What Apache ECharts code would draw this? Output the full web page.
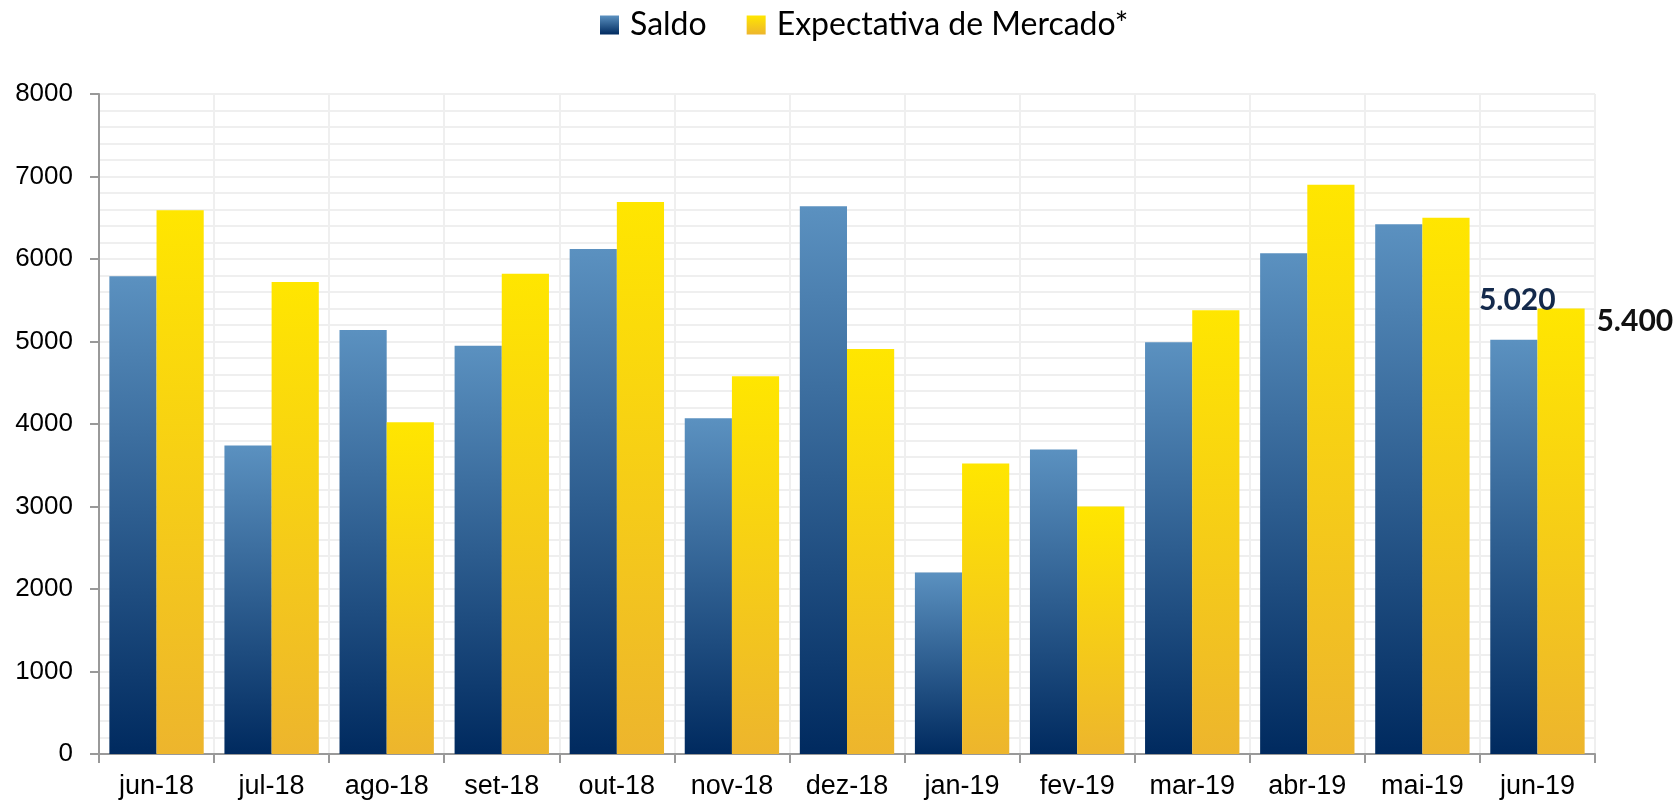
<!DOCTYPE html>
<html>
<head>
<meta charset="utf-8">
<script src="https://cdn.jsdelivr.net/npm/echarts@6/dist/echarts.min.js"></script>
<style>
  html, body { margin: 0; padding: 0; background: #fff; }
  #chart { width: 1675px; height: 805px; }
</style>
</head>
<body>
<div id="chart"></div>
<script>
const months = ["jun-18", "jul-18", "ago-18", "set-18", "out-18", "nov-18", "dez-18",
  "jan-19", "fev-19", "mar-19", "abr-19", "mai-19", "jun-19"];
const saldo = [5790, 3740, 5140, 4950, 6120, 4070, 6640, 2200, 3690, 4990, 6070, 6420, 5020];
const expectativa = [6590, 5720, 4020, 5820, 6690, 4580, 4910, 3520, 3000, 5380, 6900, 6500, 5400];
const yTicks = [0, 1000, 2000, 3000, 4000, 5000, 6000, 7000, 8000];

// thousands with a dot, like the original
function fmt(v) {
  return String(v).replace(/\B(?=(\d{3})+(?!\d))/g, ".");
}

function grad(top, bottom) {
  return new echarts.graphic.LinearGradient(0, 0, 0, 1, [
    { offset: 0, color: top },
    { offset: 1, color: bottom }
  ]);
}

const last = months.length - 1;

function withLastLabel(arr, label) {
  return arr.map((v, i) => i === last ? { value: v, label: label } : v);
}

let chart = echarts.init(document.getElementById("chart"), null, { renderer: "canvas" });

let option = {
  animation: false,
  legend: {
    top: 4,
    left: 595,
    icon: "rect",
    itemWidth: 19,
    itemHeight: 19,
    itemGap: 40,
    textStyle: { fontFamily: "Lato", fontSize: 32, color: "#000", padding: [0, 0, 0, 6] },
    data: ["Saldo", "Expectativa de Mercado*"]
  },
  grid: { left: 99, right: 80, top: 94, bottom: 51 },
  xAxis: {
    type: "category",
    data: months,
    axisLine: { lineStyle: { color: "#999", width: 2 } },
    axisTick: { show: true, length: 9, lineStyle: { color: "#999", width: 2 } },
    axisLabel: { fontFamily: "Liberation Sans", fontSize: 27, color: "#000", margin: 19 },
    splitLine: { show: true, lineStyle: { color: "#efefef", width: 2 } }
  },
  yAxis: {
    type: "value",
    min: yTicks[0],
    max: yTicks[yTicks.length - 1],
    interval: 1000,
    axisLine: { show: true, lineStyle: { color: "#999", width: 2 } },
    axisTick: { show: true, length: 9, lineStyle: { color: "#999", width: 2 } },
    axisLabel: {
      fontFamily: "Liberation Sans", fontSize: 26, color: "#000", margin: 26,
      formatter: (v) => String(v)
    },
    splitLine: { show: true, lineStyle: { color: "#efefef", width: 2 } },
    minorTick: { show: false, splitNumber: 5 },
    minorSplitLine: { show: true, lineStyle: { color: "#efefef", width: 2 } }
  },
  series: [
    {
      name: "Saldo",
      type: "bar",
      barWidth: "41%",
      barGap: "0%",
      itemStyle: { color: grad("#5b91c0", "#002a5f") },
      data: withLastLabel(saldo, {
        show: true,
        position: [27, -40],
        align: "center",
        verticalAlign: "middle",
        fontFamily: "Lato",
        fontWeight: "bold",
        fontSize: 30,
        color: "#13294b",
        formatter: (p) => fmt(p.value)
      })
    },
    {
      name: "Expectativa de Mercado*",
      type: "bar",
      barWidth: "41%",
      barGap: "0%",
      itemStyle: { color: grad("#ffe600", "#edb52d") },
      data: withLastLabel(expectativa, {
        show: true,
        position: [59, 13],
        align: "left",
        verticalAlign: "middle",
        fontFamily: "Lato",
        fontWeight: "bold",
        fontSize: 30,
        color: "#111",
        formatter: (p) => fmt(p.value)
      })
    }
  ]
};

chart.setOption(option);
window.addEventListener("resize", chart.resize);
</script>
</body>
</html>
